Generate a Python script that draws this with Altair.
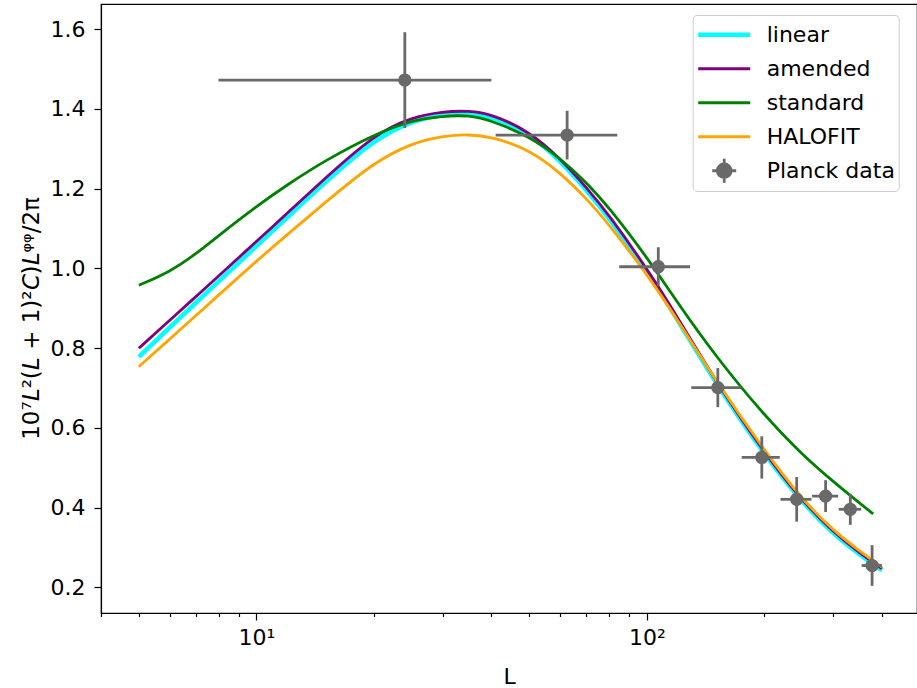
import altair as alt
import pandas as pd

# ---------------- data ----------------
L_curve = [5, 6, 7, 8, 10, 12, 15, 20, 25, 30, 35, 40, 50, 60, 70, 80,
           100, 120, 150, 200, 250, 300, 350, 400]
linear = [0.778, 0.852, 0.914, 0.967, 1.056, 1.128, 1.216, 1.323, 1.370, 1.386,
          1.389, 1.382, 1.339, 1.270, 1.197, 1.127, 0.993, 0.871, 0.712, 0.532,
          0.413, 0.334, 0.283, 0.243]
amended = [0.7995, 0.870, 0.929, 0.981, 1.067, 1.1385, 1.226, 1.335, 1.379, 1.393,
           1.395, 1.387, 1.3435, 1.2754, 1.2032, 1.134, 1.000, 0.877, 0.717, 0.537,
           0.417, 0.339, 0.287, 0.247]
halofit = [0.7535, 0.8227, 0.8818, 0.9327, 1.018, 1.085, 1.165, 1.266, 1.314, 1.332,
           1.336, 1.330, 1.298, 1.2399, 1.1755, 1.1103, 0.9858, 0.8705, 0.7188, 0.5434,
           0.4205, 0.343, 0.292, 0.251]
L_standard = [5, 6, 7, 8, 10, 12, 15, 20, 25, 30, 35, 40, 50, 60, 70, 80,
              100, 120, 150, 200, 250, 300, 350, 380]
standard = [0.9575, 0.991, 1.036, 1.082, 1.1555, 1.2097, 1.2706, 1.3355, 1.3716, 1.382,
            1.384, 1.3706, 1.3308, 1.2766, 1.2155, 1.153, 1.0284, 0.913, 0.7798, 0.6306,
            0.5328, 0.4656, 0.4125, 0.3844]

planck_L = [24, 62.5, 107, 152, 197, 242, 287, 332, 377.5]
planck_lo = [8, 41, 85, 130, 175, 220, 265, 310, 355]
planck_hi = [40, 84, 129, 174, 219, 264, 309, 354, 400]
planck_val = [1.472, 1.334, 1.004, 0.701, 0.526, 0.421, 0.429, 0.396, 0.255]
planck_err = [0.120, 0.061, 0.049, 0.049, 0.053, 0.056, 0.040, 0.039, 0.051]

series_names = ["linear", "amended", "standard", "HALOFIT", "Planck data"]
series_colors = ["#00ffff", "#800080", "#008000", "#ffa500", "#696969"]
series_widths = [4.5, 2.8, 2.8, 2.8, 2.8]

# legend glyph for the data points: error-bar cross plus a filled-looking dot
_rings = "".join(
    f"M{r},0A{r},{r},0,1,1,-{r},0A{r},{r},0,1,1,{r},0" for r in (0.575, 0.375, 0.175, 0.04)
)
planck_glyph = "M-1,0H1M0,-1V1" + _rings
legend_shapes = ["stroke", "stroke", "stroke", "stroke", planck_glyph]
legend_sizes = [2704, 2704, 2704, 2704, 576]

x_ticks = [4, 5, 6, 7, 8, 9, 10, 20, 30, 40, 50, 60, 70, 80, 90, 100, 200, 300, 400]
y_ticks = [0.2, 0.4, 0.6, 0.8, 1.0, 1.2, 1.4, 1.6]

# ---------------- tables ----------------
curve_rows = []
for name, Ls, vals in [("linear", L_curve, linear), ("amended", L_curve, amended),
                       ("standard", L_standard, standard), ("HALOFIT", L_curve, halofit)]:
    for l, v in zip(Ls, vals):
        curve_rows.append({"L": l, "value": v, "series": name})
curves = pd.DataFrame(curve_rows)

planck = pd.DataFrame({"L": planck_L, "lo": planck_lo, "hi": planck_hi,
                       "value": planck_val, "err": planck_err})
legend_df = pd.DataFrame({"series": series_names})

FONT = "DejaVu Sans"
FS = 22

x_scale = alt.Scale(type="log", domain=[4, 492], nice=False)
y_scale = alt.Scale(domain=[0.136, 1.6627], nice=False, zero=False)

x_axis = alt.Axis(
    values=x_ticks,
    labelExpr="datum.value == 10 ? '10¹' : (datum.value == 100 ? '10²' : '')",
    tickSize={"condition": {"test": "datum.value == 10 || datum.value == 100", "value": 7},
              "value": 3.5},
    grid=False, labelFontSize=FS, labelPadding=7, labelColor="black",
    tickColor="black", tickWidth=1.2, domainColor="black", domainWidth=1.2,
    labelFlush=False, labelOverlap=False,
    title="L", titleFontSize=FS, titleFontWeight="normal", titleColor="black",
    titleY=70, titleBaseline="alphabetic",
)
y_axis = alt.Axis(
    values=y_ticks, format=".1f", grid=False, labelFontSize=FS, labelPadding=9,
    labelColor="black", tickSize=7, tickColor="black", tickWidth=1.2,
    domainColor="black", domainWidth=1.2,
    title="10⁷𝘓²(𝘓 + 1)²𝘊)𝘓ᵠᵠ/2π", titleFontSize=23, titleFontWeight="normal",
    titleColor="black", titleX=-63, titleY=314, titleAngle=270,
    titleAlign="center", titleBaseline="alphabetic",
)

# legend layer (draws nothing, carries the legend)
legend_layer = alt.Chart(legend_df).transform_filter("false").mark_point(
    filled=False, opacity=1
).encode(
    color=alt.Color("series:N", scale=alt.Scale(domain=series_names, range=series_colors),
                    legend=alt.Legend(
                        title=None, orient="none", legendX=591.7, legendY=11,
                        padding=3, fillColor="rgba(255,255,255,0.8)",
                        strokeColor="#cccccc", cornerRadius=4,
                        labelFont=FONT, labelFontSize=FS, labelColor="black",
                        labelOffset=14, clipHeight=33.5, rowPadding=0,
                        labelLimit=400, symbolOpacity=1)),
    shape=alt.Shape("series:N", scale=alt.Scale(domain=series_names, range=legend_shapes)),
    size=alt.Size("series:N", scale=alt.Scale(type="ordinal", domain=series_names,
                                              range=legend_sizes)),
    strokeWidth=alt.StrokeWidth("series:N", scale=alt.Scale(type="ordinal", domain=series_names,
                                                            range=series_widths)),
)

layers = [legend_layer]
for name, col, w in zip(series_names[:4], series_colors[:4], series_widths[:4]):
    layers.append(
        alt.Chart(curves).transform_filter(alt.datum.series == name).mark_line(
            color=col, strokeWidth=w, interpolate="basis", clip=True
        ).encode(
            x=alt.X("L:Q", scale=x_scale, axis=x_axis),
            y=alt.Y("value:Q", scale=y_scale, axis=y_axis),
        )
    )

base_p = alt.Chart(planck).transform_calculate(
    ylo="datum.value - datum.err", yhi="datum.value + datum.err"
)
gray = series_colors[4]
layers.append(base_p.mark_rule(color=gray, strokeWidth=2.8).encode(
    x=alt.X("lo:Q", scale=x_scale), x2="hi:Q", y=alt.Y("value:Q", scale=y_scale)))
layers.append(base_p.mark_rule(color=gray, strokeWidth=2.8).encode(
    x=alt.X("L:Q", scale=x_scale), y=alt.Y("ylo:Q", scale=y_scale), y2="yhi:Q"))
layers.append(base_p.mark_circle(color=gray, size=177, opacity=1).encode(
    x=alt.X("L:Q", scale=x_scale), y=alt.Y("value:Q", scale=y_scale)))

chart = alt.layer(*layers).properties(
    width=816, height=609,
    autosize=alt.AutoSizeParams(type="none"),
    padding={"left": 101, "top": 4, "right": 0, "bottom": 75},
).configure(font=FONT).configure_view(stroke="black", strokeWidth=1.2).configure_axis(
    labelFont=FONT, titleFont=FONT
)

chart.save("out.html", embed_options={"renderer": "svg", "actions": False})
